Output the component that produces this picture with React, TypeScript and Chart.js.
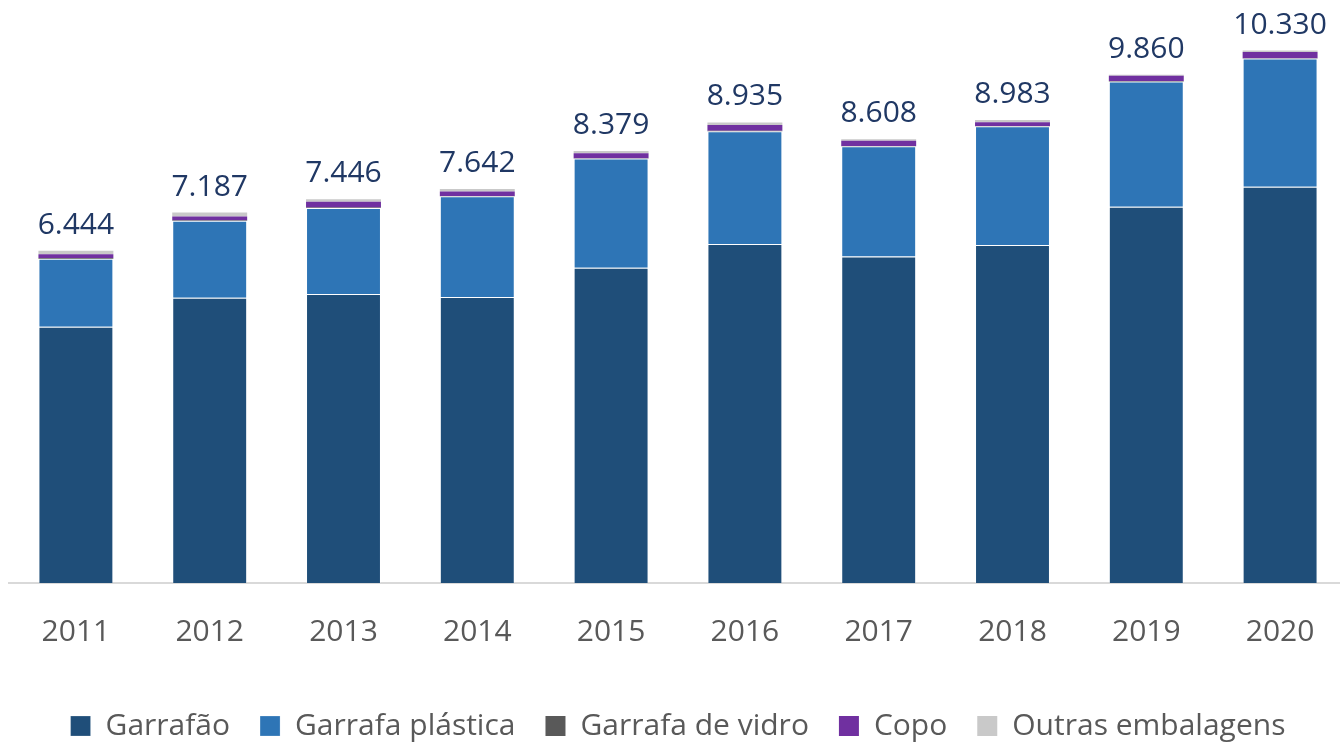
import React, { useEffect, useRef } from "react";
import { Chart, registerables } from "chart.js";

Chart.register(...registerables);

const years = ["2011", "2012", "2013", "2014", "2015", "2016", "2017", "2018", "2019", "2020"];
const garrafao = [4971, 5534, 5606, 5548, 6117, 6577, 6336, 6557, 7301, 7689];
const garrafaPlastica = [1320, 1495, 1670, 1953, 2117, 2186, 2136, 2303, 2427, 2485];
const garrafaVidro = [15, 10, 10, 6, 8, 12, 6, 8, 12, 6];
const copo = [70, 70, 108, 90, 97, 110, 100, 70, 100, 120];
const outras = [68, 78, 52, 45, 40, 50, 30, 45, 20, 30];
const totals = ["6.444", "7.187", "7.446", "7.642", "8.379", "8.935", "8.608", "8.983", "9.860", "10.330"];
const totalValues = [6444, 7187, 7446, 7642, 8379, 8935, 8608, 8983, 9860, 10330];

const FONT = "'Open Sans', 'Noto Sans', sans-serif";

const totalsPlugin = {
  id: "totals",
  afterDatasetsDraw(chart: any) {
    const { ctx, scales } = chart;
    const xs = scales.x;
    const ys = scales.y;
    ctx.save();
    ctx.font = `30px ${FONT}`;
    ctx.fillStyle = "#203864";
    ctx.textAlign = "center";
    ctx.textBaseline = "alphabetic";
    totals.forEach((t, i) => {
      const x = xs.getPixelForValue(i);
      const y = ys.getPixelForValue(totalValues[i]);
      ctx.fillText(t, x, y - 17);
    });
    ctx.restore();
  },
};

export default function App() {
  const ref = useRef<HTMLCanvasElement>(null);
  useEffect(() => {
    if (!ref.current) return;
    const border = "rgba(255,255,255,0.22)";
    const chart = new Chart(ref.current, {
      type: "bar",
      data: {
        labels: years,
        datasets: [
          { label: "Garrafão", data: garrafao, backgroundColor: "#1F4E79", borderColor: border, borderWidth: 1 },
          { label: "Garrafa plástica", data: garrafaPlastica, backgroundColor: "#2E75B6", borderColor: border, borderWidth: 1 },
          { label: "Garrafa de vidro", data: garrafaVidro, backgroundColor: "#595959", borderWidth: 0 },
          { label: "Copo", data: copo, backgroundColor: "#7030A0", borderWidth: 0 },
          { label: "Outras embalagens", data: outras, backgroundColor: "#C9C9C9", borderWidth: 0 },
        ],
      },
      options: {
        animation: false,
        responsive: true,
        maintainAspectRatio: false,
        datasets: { bar: { categoryPercentage: 1, barPercentage: 0.56 } },
        layout: { padding: { left: 9, top: 16, right: 3, bottom: 0 } },
        plugins: {
          tooltip: { enabled: false },
          legend: {
            position: "bottom",
            labels: {
              boxWidth: 20,
              boxHeight: 20,
              padding: 30,
              color: "#595959",
              font: { size: 30, family: FONT },
            },
          },
        },
        scales: {
          x: {
            stacked: true,
            grid: { display: false, drawTicks: false },
            border: { display: true, color: "#D9D9D9", width: 2 },
            ticks: { padding: 31, color: "#595959", font: { size: 30, family: FONT } },
          },
          y: {
            stacked: true,
            display: false,
            min: 0,
            max: 11000,
          },
        },
      },
      plugins: [totalsPlugin],
    });
    return () => chart.destroy();
  }, []);
  return (
    <div style={{ position: "fixed", left: 0, top: 0, width: 1350, height: 751, background: "#fff" }}>
      <canvas ref={ref} />
    </div>
  );
}
